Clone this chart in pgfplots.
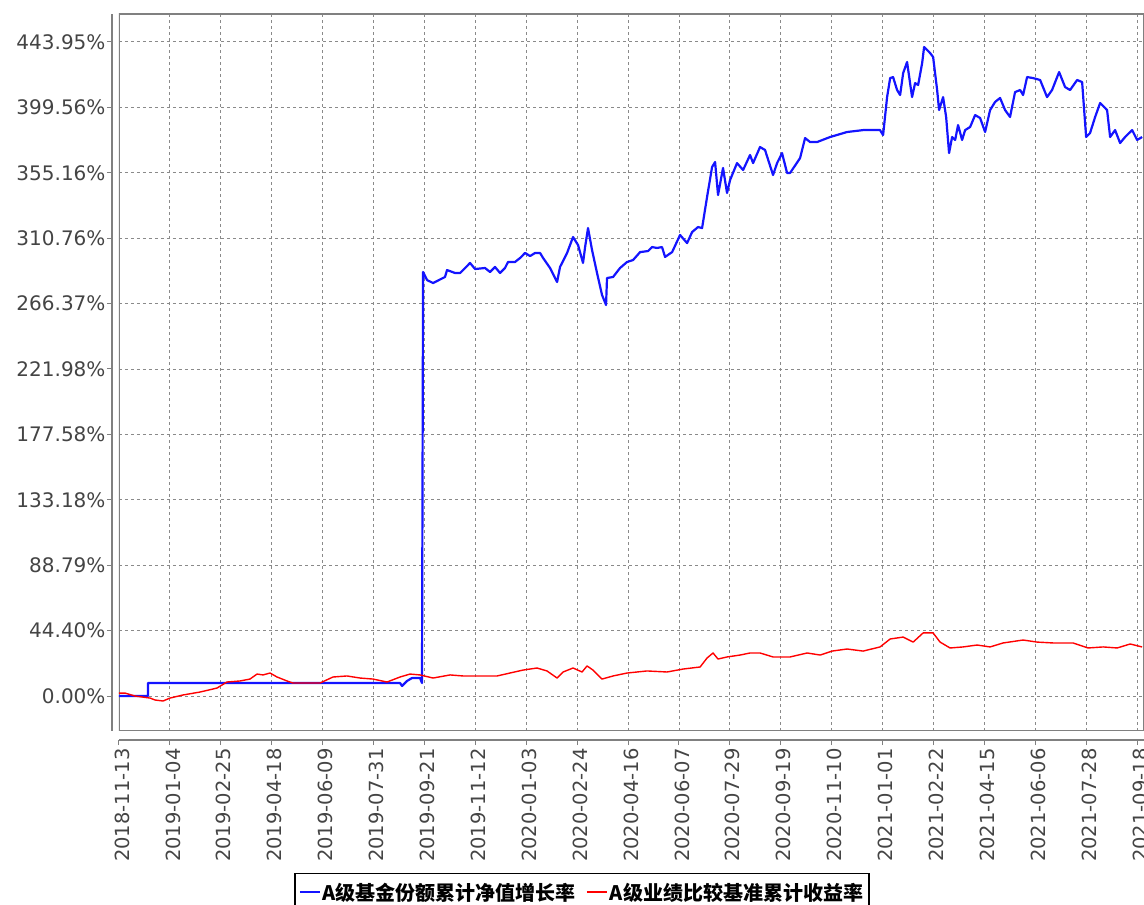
\documentclass[border=0pt]{standalone}
\usepackage{fontspec}
\setmainfont{DejaVu Sans}
\newfontfamily\cjk{Noto Sans CJK SC}
\usepackage{pgfplots}
\pgfplotsset{compat=1.18}
\definecolor{lblgray}{HTML}{444444}
\definecolor{gridgray}{HTML}{8A8A8A}
\definecolor{framegray}{HTML}{808080}
\definecolor{fundblue}{RGB}{20,20,255}
\definecolor{benchred}{RGB}{255,0,0}

\pgfplotstableread{
day pct
0 0
29.6 0
29.6 8.8
287.1 8.8
289.1 6.8
294.2 10.2
299.3 12.2
307.5 12.2
309.5 8.8
310.6 287.8
314.7 282.3
320.8 280.3
333.0 284.4
335.1 289.1
343.3 287.1
348.4 287.1
351.4 289.1
358.6 293.9
363.7 289.8
373.9 290.5
379.0 287.8
384.1 291.2
389.2 287.1
394.3 290.5
397.4 294.6
404.6 294.6
409.7 297.3
414.8 300.7
419.9 298.6
425.0 300.7
430.1 300.7
433.2 297.3
440.3 290.5
447.5 281.0
450.5 291.2
457.7 300.7
463.8 311.5
468.9 306.1
474.0 293.9
476.1 304.7
479.1 317.6
483.2 302.7
488.3 287.1
493.4 272.2
497.5 265.4
498.5 283.7
504.7 284.4
511.8 290.5
519.0 294.6
525.1 295.9
532.3 301.3
540.4 302.0
544.5 304.7
549.6 304.1
554.7 304.7
557.8 298.0
565.0 301.3
573.1 312.9
580.3 307.4
585.4 314.9
591.5 318.3
595.6 317.6
600.7 338.7
605.8 359.0
608.9 362.4
611.9 340.0
617.0 358.4
621.1 341.4
624.2 350.2
631.3 361.7
637.5 357.0
644.6 367.2
647.7 361.7
654.8 372.6
659.9 370.6
668.1 353.6
672.2 361.7
677.3 368.5
682.4 355.0
685.5 355.0
695.7 365.1
700.8 378.7
705.9 376.0
713.1 376.0
726.4 379.4
743.7 382.8
760.1 384.1
777.4 384.1
780.5 380.7
784.6 406.5
787.7 419.4
790.7 420.1
794.8 411.3
797.9 407.9
801.0 422.8
805.0 430.3
810.1 406.5
813.2 416.0
816.3 414.7
820.4 429.6
822.4 440.5
828.5 436.4
831.6 433.7
835.7 411.3
837.7 397.7
841.8 406.5
844.9 393.0
847.9 368.5
851.0 379.4
854.1 377.4
857.1 387.5
861.2 377.4
864.3 384.1
869.4 386.2
874.5 394.3
879.6 392.3
884.7 382.8
889.8 397.7
894.9 403.2
900.0 405.9
905.1 397.7
910.2 393.0
915.3 409.9
920.5 411.3
923.5 407.9
927.6 420.1
933.7 419.4
940.9 418.1
948.0 406.5
953.1 411.3
960.3 423.5
966.4 413.3
971.5 411.3
978.7 418.1
983.8 416.7
987.9 379.4
991.9 382.1
997.1 393.0
1002.2 402.5
1009.3 397.7
1012.4 379.4
1017.5 384.1
1022.6 375.3
1027.7 379.4
1034.9 384.1
1040.0 377.4
1045.1 379.4
}\fundtable

\pgfplotstableread{
day pct
0 2.0
6.1 2.0
16.3 0
31.7 -1.4
36.8 -2.7
45.0 -3.4
52.1 -1.4
65.4 0.7
82.8 2.7
100.1 5.4
110.3 9.5
123.6 10.2
133.8 11.5
141.0 14.9
147.1 14.3
154.3 15.6
161.4 12.9
171.6 10.2
177.8 8.8
192.1 8.8
205.3 8.8
218.6 12.9
232.9 13.6
246.2 12.2
259.5 11.5
273.8 9.5
287.1 12.9
297.3 14.9
307.5 14.3
320.8 12.2
338.2 14.3
351.4 13.6
368.8 13.6
386.2 13.6
399.4 15.6
412.7 17.6
427.0 19.0
437.2 17.0
447.5 12.2
453.6 16.3
463.8 19.0
473.0 16.3
478.1 20.4
484.2 17.6
493.4 11.5
504.7 13.6
519.0 15.6
539.4 17.0
559.8 16.3
576.2 18.3
593.6 19.7
600.7 25.8
606.8 29.2
611.9 25.1
621.1 26.5
634.4 27.8
644.6 29.2
654.8 29.2
668.1 26.5
685.5 26.5
702.9 29.2
716.2 27.8
728.4 30.5
743.7 31.9
760.1 30.5
777.4 33.3
787.7 38.7
801.0 40.0
811.2 36.6
821.4 42.8
831.6 42.8
838.7 36.6
848.9 32.6
862.2 33.3
876.5 34.6
889.8 33.3
903.1 36.0
923.5 38.0
937.8 36.6
954.2 36.0
974.6 36.0
989.9 32.6
1005.3 33.3
1019.6 32.6
1032.9 35.3
1045.1 33.3
}\benchtable

\begin{document}
\begin{tikzpicture}[x=1pt,y=1pt]
\useasboundingbox (0,0) rectangle (1144,905);
\begin{axis}[
  at={(119pt,174pt)}, anchor=south west,
  width=1025pt, height=717pt, scale only axis,
  xmin=0, xmax=1047, ymin=-23.75, ymax=462.9,
  axis lines=left,
  axis line style={-, framegray, line width=1.3pt},
  axis x line shift=9pt, axis y line shift=7pt,
  tick align=outside, major tick length=5pt,
  tick style={framegray, line width=1pt},
  xtick={0,52,...,1040},
  xticklabels={2018-11-13,2019-01-04,2019-02-25,2019-04-18,2019-06-09,2019-07-31,2019-09-21,2019-11-12,2020-01-03,2020-02-24,2020-04-16,2020-06-07,2020-07-29,2020-09-19,2020-11-10,2021-01-01,2021-02-22,2021-04-15,2021-06-06,2021-07-28,2021-09-18},
  ytick={0,44.395,88.79,133.185,177.58,221.975,266.37,310.765,355.16,399.555,443.95},
  yticklabels={0.00\%,44.40\%,88.79\%,133.18\%,177.58\%,221.98\%,266.37\%,310.76\%,355.16\%,399.56\%,443.95\%},
  xticklabel style={rotate=90, anchor=east, font=\fontsize{19.5}{19.5}\selectfont, text=lblgray, xshift=0pt, yshift=-3pt},
  yticklabel style={font=\fontsize{20}{20}\selectfont, text=lblgray, xshift=2pt},
  grid=major,
  grid style={gridgray, dash pattern=on 3pt off 3pt, line width=0.9pt},
  legend style={at={(0.4517,-0.198)}, anchor=north, legend columns=2,
    draw=black, line width=1.5pt, fill=white,
    font=\cjk\bfseries\fontsize{20}{22}\selectfont,
    inner xsep=4pt, inner ysep=7pt,
    /tikz/every even column/.append style={column sep=8pt}},
  legend image code/.code={\draw[line width=2pt, #1] (0pt,0pt) -- (20pt,0pt);},
]
\draw[framegray, line width=1.3pt] (rel axis cs:0,0) rectangle (rel axis cs:1,1);
\addplot[fundblue, line width=2.2pt, line join=round] table[x=day, y=pct] {\fundtable};
\addlegendentry{A级基金份额累计净值增长率}
\addplot[benchred, line width=1.4pt, line join=round] table[x=day, y=pct] {\benchtable};
\addlegendentry{A级业绩比较基准累计收益率}
\end{axis}
\end{tikzpicture}
\end{document}
